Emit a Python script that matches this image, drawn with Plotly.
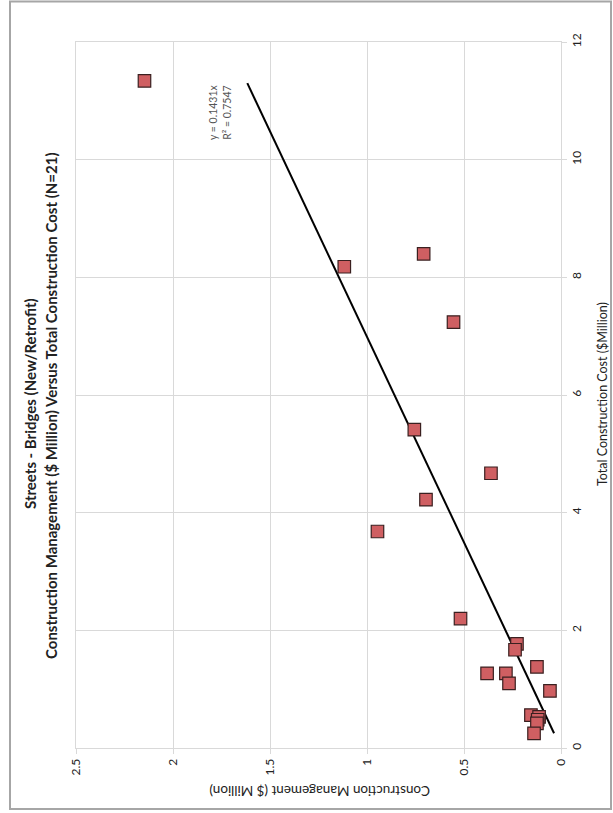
import plotly.graph_objects as go

# Data
total_cost = [11.34, 8.40, 8.18, 7.24, 5.41, 4.67, 4.22, 3.68, 2.20, 1.77, 1.67,
              1.38, 1.27, 1.27, 1.10, 0.97, 0.56, 0.53, 0.48, 0.42, 0.25]
cm_cost = [2.147, 0.708, 1.117, 0.554, 0.756, 0.361, 0.696, 0.946, 0.518, 0.227, 0.237,
           0.124, 0.381, 0.284, 0.268, 0.057, 0.155, 0.113, 0.120, 0.124, 0.139]
slope = 0.1431
r2 = 0.7547
trend_x_range = [0.25, 11.3]

cm_ticks = [0, 0.5, 1, 1.5, 2, 2.5]
cm_ticktext = ["0", "0.5", "1", "1.5", "2", "2.5"]
tc_ticks = [0, 2, 4, 6, 8, 10, 12]

title1 = "Streets - Bridges (New/Retrofit)"
title2 = "Construction Management ($ Million) Versus Total Construction Cost (N=21)"
cm_title = "Construction Management ($ Million)"
tc_title = "Total Construction Cost ($Million)"

W, H = 613, 813
L, R, T, B = 76, 52, 42, 65
pw, ph = W - L - R, H - T - B

def px(x):
    return (x - L) / pw

def py(y):
    return (H - B - y) / ph

FONT = "Lato"
fig = go.Figure()

# Trend line (rotated: horizontal axis = CM, vertical axis = total cost)
fig.add_trace(go.Scatter(
    x=[slope * v for v in trend_x_range], y=trend_x_range,
    mode="lines", line=dict(color="black", width=2), hoverinfo="skip", showlegend=False))

fig.add_trace(go.Scatter(
    x=cm_cost, y=total_cost, mode="markers",
    marker=dict(symbol="square", size=12.5, color="#CF5F62",
                line=dict(color="#3a2020", width=1.2)),
    showlegend=False))

fig.update_xaxes(range=[2.5, 0], tickvals=cm_ticks, ticktext=cm_ticktext, tickangle=-90,
                 showgrid=True, gridcolor="#d9d9d9", gridwidth=1, zeroline=False,
                 showline=True, linecolor="#d9d9d9", mirror=True,
                 ticks="outside", ticklen=5, tickcolor="#d9d9d9",
                 tickfont=dict(family=FONT, size=12, color="#222"))
fig.update_yaxes(range=[0, 12], tickvals=tc_ticks, side="right", tickangle=-90,
                 showgrid=True, gridcolor="#d9d9d9", gridwidth=1, zeroline=False,
                 showline=True, linecolor="#d9d9d9", mirror=True,
                 ticks="outside", ticklen=5, tickcolor="#d9d9d9",
                 tickfont=dict(family=FONT, size=12, color="#222"))

ann = [
    dict(text="<b>" + title1 + "</b>", x=px(30), y=py(404), textangle=-90,
         font=dict(family=FONT, size=15, color="#222")),
    dict(text="<b>" + title2 + "</b>", x=px(51), y=py(406), textangle=-90,
         font=dict(family=FONT, size=15, color="#222")),
    dict(text=cm_title, x=px(320), y=py(791), textangle=180,
         font=dict(family=FONT, size=13.5, color="#222")),
    dict(text=tc_title, x=px(602), y=py(394), textangle=-90,
         font=dict(family=FONT, size=12.5, color="#222")),
    dict(text=f"y = {slope}x<br>R² = {r2}", x=px(220), y=py(112), textangle=-90,
         font=dict(family=FONT, size=10.5, color="#555")),
]
for a in ann:
    a.update(xref="paper", yref="paper", showarrow=False, xanchor="center", yanchor="middle")

fig.update_layout(
    width=W, height=H, margin=dict(l=L, r=R, t=T, b=B),
    paper_bgcolor="white", plot_bgcolor="white",
    annotations=ann,
    shapes=[dict(type="rect", xref="paper", yref="paper",
                 x0=px(10), x1=px(611), y0=py(809), y1=py(1.5),
                 line=dict(color="#a6a6a6", width=2), fillcolor="rgba(0,0,0,0)", layer="below")],
)

fig.write_html("out.html", config={"displayModeBar": False},
               post_script="document.body.style.margin='0';document.body.style.overflow='hidden';")
